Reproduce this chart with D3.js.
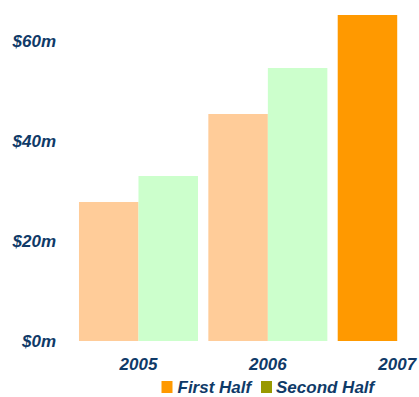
<!DOCTYPE html>
<html>
<head>
<meta charset="utf-8">
<script src="https://cdn.jsdelivr.net/npm/d3@7"></script>
<style>
  body { margin: 0; background: #fff; }
  text { font-family: "Liberation Sans", Arial, sans-serif; font-weight: bold; font-style: italic; fill: #0f3a68; }
</style>
</head>
<body>
<svg id="chart" width="419" height="397"></svg>
<script>
const years = ["2005", "2006", "2007"];
const halves = ["First Half", "Second Half"];
const firstHalf = [27.8, 45.4, 65.2];
const secondHalf = [33, 54.6, null];
const yTicks = [0, 20, 40, 60];

const svg = d3.select("#chart");

const y = d3.scaleLinear().domain([0, 60]).range([341, 41]);
const x = d3.scaleBand().domain(years).range([73.8, 461.9])
    .paddingInner(0.08).paddingOuter(0.04);
const xi = d3.scaleBand().domain(halves).range([0, x.bandwidth()]);

// bar colours: past years are faded, the current one is full
const fillFirst = (yr) => yr === "2007" ? "#ff9900" : "#ffcc99";
const fillSecond = () => "#ccffcc";

const rows = [];
years.forEach((yr, i) => {
    rows.push({ year: yr, half: halves[0], value: firstHalf[i], fill: fillFirst(yr) });
    if (secondHalf[i] != null)
        rows.push({ year: yr, half: halves[1], value: secondHalf[i], fill: fillSecond(yr) });
});

svg.append("g").selectAll("rect")
    .data(rows)
    .join("rect")
    .attr("x", d => x(d.year) + xi(d.half))
    .attr("y", d => y(d.value))
    .attr("width", xi.bandwidth())
    .attr("height", d => y(0) - y(d.value))
    .attr("fill", d => d.fill);

// y axis labels
const yAxis = svg.append("g")
    .attr("transform", "translate(56,0)")
    .call(d3.axisLeft(y).tickValues(yTicks).tickSize(0).tickPadding(0)
        .tickFormat(d => "$" + d + "m"));
yAxis.select(".domain").remove();
yAxis.selectAll("text").attr("font-size", "17px").attr("font-family", null).attr("dy", "0.35em");

// x axis labels
const xAxis = svg.append("g")
    .attr("transform", "translate(0,358)")
    .call(d3.axisBottom(x).tickSize(0).tickPadding(0));
xAxis.select(".domain").remove();
xAxis.selectAll("text").attr("font-size", "17px").attr("font-family", null).attr("dy", "0.71em");

// legend
const legendColors = ["#ff9900", "#999900"];
const legendX = [161.5, 261];
const legend = svg.append("g").selectAll("g")
    .data(halves)
    .join("g")
    .attr("transform", (d, i) => `translate(${legendX[i]},381)`);
legend.append("rect")
    .attr("width", 11).attr("height", 12)
    .attr("fill", (d, i) => legendColors[i]);
legend.append("text")
    .attr("x", (d, i) => i === 0 ? 16 : 15).attr("y", 12)
    .attr("font-size", "17px")
    .text(d => d);
</script>
</body>
</html>
